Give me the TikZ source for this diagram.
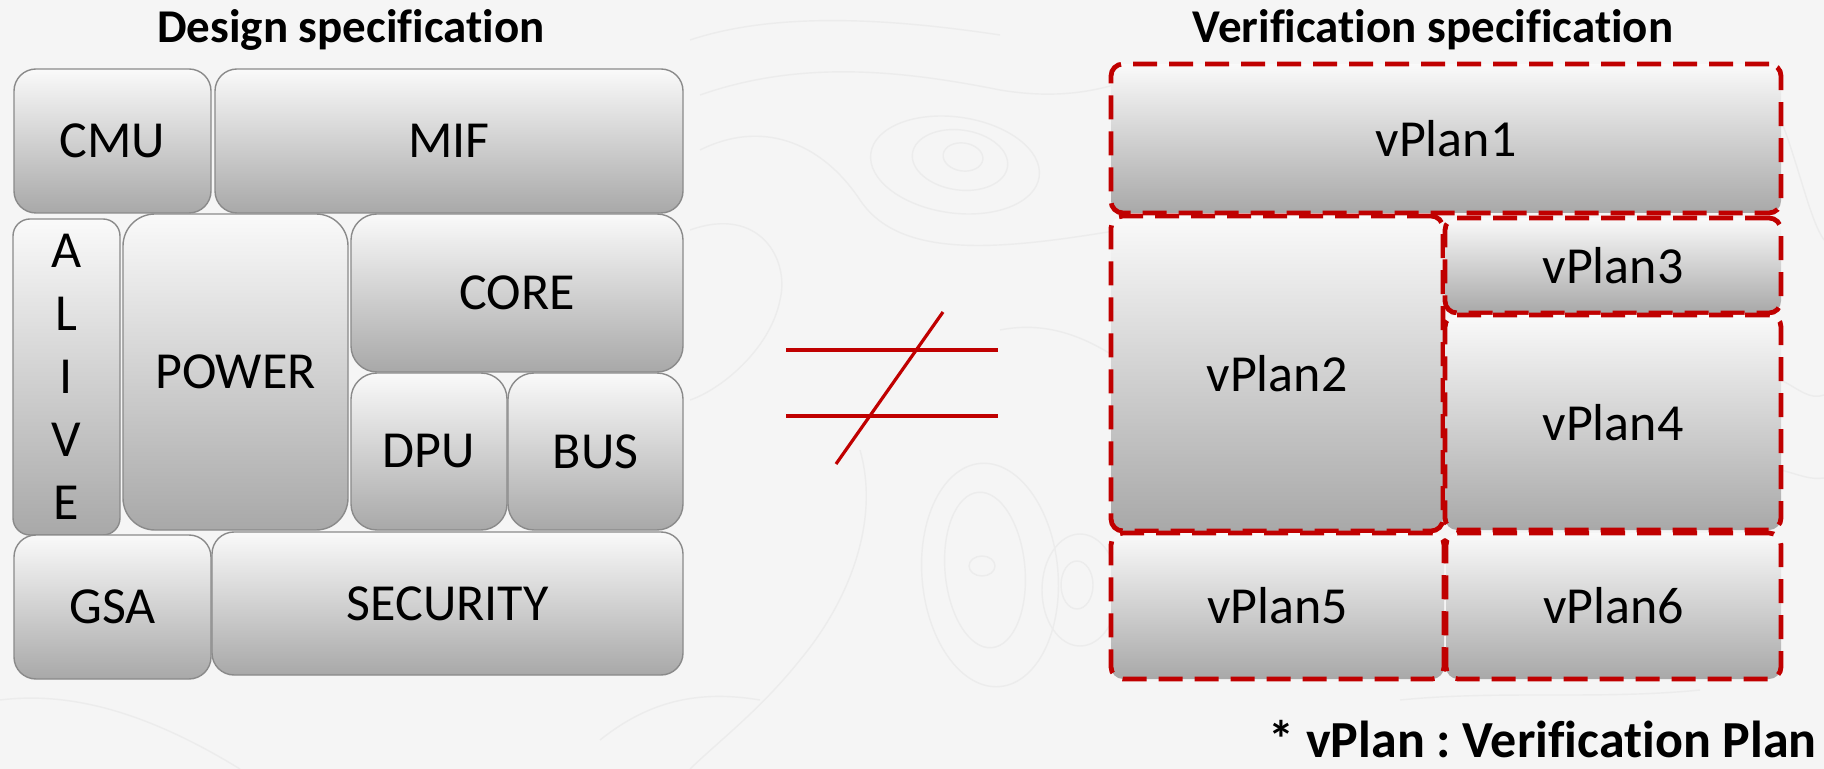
\documentclass[tikz,border=0pt]{standalone}
\usepackage{fontspec}
\setmainfont[Ligatures=NoCommon]{Carlito}
\definecolor{planred}{HTML}{C00000}
\definecolor{pagebg}{HTML}{F5F5F5}
\definecolor{contour}{HTML}{ECECEC}
\definecolor{boxedge}{HTML}{8A8A8A}
\begin{document}
\frenchspacing
\begin{tikzpicture}[x=0.5pt,y=-0.5pt,
  sz/.style 2 args={minimum width=#1*0.5pt, minimum height=#2*0.5pt},
  rc/.style={rounded corners=#1*0.5pt},
  shade box/.style={top color=black!2, bottom color=black!34, inner sep=0pt,
    font=\fontsize{26pt}{31.5pt}\selectfont},
  blk/.style={shade box, draw=boxedge, line width=0.7pt},
  plan/.style={shade box, draw=planred, line width=2.4pt,
    dash pattern=on 12pt off 6pt, rounded corners=6pt},
  title/.style={font=\fontsize{23.5pt}{28pt}\selectfont\bfseries, anchor=base},
  neq/.style={draw=planred, line width=1.6pt},
  topo/.style={draw=contour, line width=0.7pt}]

% page with faint topographic texture
\fill[pagebg] (0,0) rectangle (1824,769);
\useasboundingbox (0,0) rectangle (1824,769);
\begin{scope}
  \clip (0,0) rectangle (1824,769);
  \draw[topo, rotate around={-8:(963,157)}] (963,157) ellipse (20 and 14);
  \draw[topo, rotate around={-8:(960,160)}] (960,160) ellipse (48 and 30);
  \draw[topo, rotate around={-8:(955,165)}] (955,165) ellipse (85 and 48);
  \draw[topo] (700,95) .. controls (800,60) and (900,70) .. (1000,90)
              .. controls (1060,100) and (1100,90) .. (1130,80);
  \draw[topo] (690,40) .. controls (780,10) and (900,20) .. (1000,35);
  \draw[topo] (700,150) .. controls (760,120) and (820,140) .. (860,200)
              .. controls (900,260) and (1000,250) .. (1120,230);
  \draw[topo] (690,230) .. controls (760,205) and (790,260) .. (780,300)
              .. controls (770,350) and (720,390) .. (690,400);
  \draw[topo] (982,566) ellipse (13 and 10);
  \draw[topo, rotate around={5:(985,570)}] (985,570) ellipse (40 and 78);
  \draw[topo, rotate around={5:(990,575)}] (990,575) ellipse (68 and 112);
  \draw[topo] (1077,585) ellipse (16 and 24);
  \draw[topo] (1080,590) ellipse (38 and 56);
  \draw[topo] (860,450) .. controls (880,520) and (850,600) .. (800,660)
              .. controls (760,710) and (720,740) .. (690,769);
  \draw[topo] (1000,330) .. controls (1050,320) and (1090,340) .. (1120,360);
  \draw[topo] (1781,120) .. controls (1800,170) and (1810,220) .. (1824,240);
  \draw[topo] (1781,380) .. controls (1800,390) and (1810,400) .. (1824,395);
  \draw[topo] (1781,470) .. controls (1800,475) and (1810,480) .. (1824,478);
  \draw[topo] (1400,700) .. controls (1500,690) and (1600,700) .. (1700,690);
  \draw[topo] (600,740) .. controls (650,700) and (700,690) .. (760,700);
  \draw[topo] (0,700) .. controls (80,690) and (160,720) .. (240,769);
\end{scope}

% titles
\node[title] (dtitle) at (351,43) {Design specification};
\node[title] (vtitle) at (1433,43) {Verification specification};

% design blocks
\node[blk, sz={197}{144}, rc=22] (cmu)   at (112.5,141) {CMU};
\node[blk, sz={468}{144}, rc=22] (mif)   at (449,141)   {MIF};
\node[blk, sz={107}{316}, rc=17, align=center] (alive) at (66.5,377) {A\\L\\I\\V\\E};
\node[blk, sz={225}{316}, rc=32] (power) at (235.5,372) {POWER};
\node[blk, sz={332}{158}, rc=26] (core)  at (517,293)   {CORE};
\node[blk, sz={156}{157}, rc=26] (dpu)   at (429,451.5) {DPU};
\node[blk, sz={175}{157}, rc=26] (bus)   at (595.5,451.5) {BUS};
\node[blk, sz={197}{144}, rc=22] (gsa)   at (112.5,607) {GSA};
\node[blk, sz={471}{143}, rc=22] (sec)   at (447.5,603.5) {SECURITY};

% not-equal sign
\coordinate (eqa1) at (786,350);
\coordinate (eqa2) at (998,350);
\coordinate (eqb1) at (786,416);
\coordinate (eqb2) at (998,416);
\coordinate (sl1) at (836,464);
\coordinate (sl2) at (943,312);
\draw[neq] (eqa1) -- (eqa2);
\draw[neq] (eqb1) -- (eqb2);
\draw[neq] (sl1) -- (sl2);

% verification plans
\node[plan, sz={670}{149}] (v1) at (1446,138.5)  {vPlan1};
\node[plan, sz={332}{315}] (v2) at (1277,373.5)  {vPlan2};
\node[plan, sz={336}{95}]  (v3) at (1613,265.5)  {vPlan3};
\node[plan, sz={336}{215}] (v4) at (1613,422.5)  {vPlan4};
\node[plan, sz={333}{146}] (v5) at (1277.5,606)  {vPlan5};
\node[plan, sz={335}{146}] (v6) at (1613.5,606)  {vPlan6};

% footnote
\node[font=\fontsize{26pt}{31pt}\selectfont\bfseries, anchor=base east, inner sep=0pt]
  (note) at (1817,757) {* vPlan : Verification Plan};
\end{tikzpicture}
\end{document}
